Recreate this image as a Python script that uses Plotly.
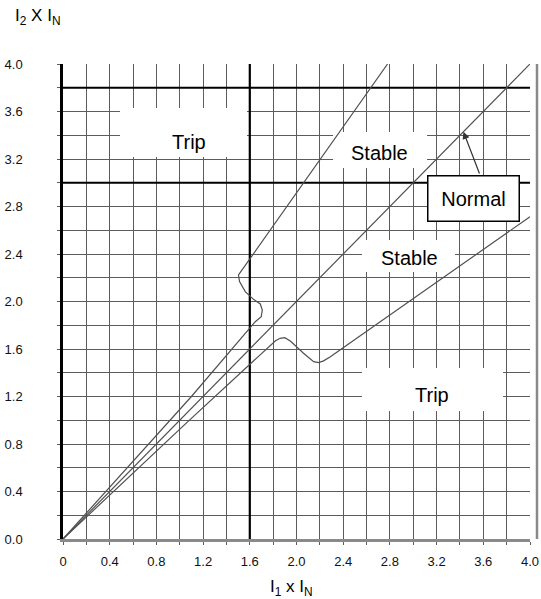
import plotly.graph_objects as go

# ---- data ----
normal_x = [0.0, 4.0]
normal_y = [0.0, 4.0]

upper_x = [0.0, 1.10, 1.647, 1.698, 1.707, 1.690, 1.632, 1.561, 1.512, 1.503, 2.78]
upper_y = [0.0, 1.20, 1.830, 1.872, 1.928, 1.979, 2.018, 2.083, 2.167, 2.223, 4.00]

lower_x = [0.0, 1.06, 1.82, 1.86, 1.90, 1.95, 2.06, 2.147, 2.19, 2.232, 2.29, 4.0]
lower_y = [0.0, 0.98, 1.67, 1.69, 1.695, 1.665, 1.564, 1.493, 1.485, 1.50, 1.535, 2.714]

x_tickvals = [0, 0.4, 0.8, 1.2, 1.6, 2.0, 2.4, 2.8, 3.2, 3.6, 4.0]
x_ticktext = ["0", "0.4", "0.8", "1.2", "1.6", "2.0", "2.4", "2.8", "3.2", "3.6", "4.0"]
y_tickvals = [0, 0.4, 0.8, 1.2, 1.6, 2.0, 2.4, 2.8, 3.2, 3.6, 4.0]
y_ticktext = ["0.0", "0.4", "0.8", "1.2", "1.6", "2.0", "2.4", "2.8", "3.2", "3.6", "4.0"]

heavy_x = [1.6]
heavy_y = [3.0, 3.8]

# region labels: text, box x0, x1, y0, y1, text x, text y
labels = [
    ("Trip",   0.488, 1.576, 3.217, 3.629, 1.079, 3.343),
    ("Stable", 2.313, 3.118, 3.124, 3.427, 2.715, 3.250),
    ("Stable", 2.561, 3.358, 2.248, 2.518, 2.972, 2.366),
    ("Trip",   2.561, 3.769, 1.078, 1.440, 3.161, 1.213),
]
normal_label = ("Normal", 3.516, 2.867)
normal_arrow_tip = (3.43, 3.43)
normal_arrow_tail = (3.572, 3.065)

FONT = "Liberation Sans, Arial, sans-serif"
GRID = "#5c5c5c"
CURVE = "#505050"

fig = go.Figure()
for xs, ys in [(normal_x, normal_y), (upper_x, upper_y), (lower_x, lower_y)]:
    fig.add_trace(go.Scatter(x=xs, y=ys, mode="lines",
                             line=dict(color=CURVE, width=1.2),
                             hoverinfo="skip", showlegend=False))

shapes = []
for xv in heavy_x:
    shapes.append(dict(type="line", xref="x", yref="y", x0=xv, x1=xv, y0=0, y1=4,
                       line=dict(color="black", width=2.2), layer="between"))
for yv in heavy_y:
    shapes.append(dict(type="line", xref="x", yref="y", x0=0, x1=4, y0=yv, y1=yv,
                       line=dict(color="black", width=2.2), layer="between"))
for (t, x0, x1, y0, y1, tx, ty) in labels:
    shapes.append(dict(type="rect", xref="x", yref="y", x0=x0, x1=x1, y0=y0, y1=y1,
                       fillcolor="white", line=dict(width=0), layer="between"))
# right border
shapes.append(dict(type="line", xref="paper", yref="paper", x0=1.015, x1=1.015, y0=0, y1=1,
                   line=dict(color="#8a8a8a", width=2.5), layer="above"))

annotations = []
for (t, x0, x1, y0, y1, tx, ty) in labels:
    annotations.append(dict(x=tx, y=ty, xref="x", yref="y", text=t, showarrow=False,
                            font=dict(family=FONT, size=20, color="black")))
annotations.append(dict(x=normal_arrow_tip[0], y=normal_arrow_tip[1], xref="x", yref="y",
                        ax=normal_arrow_tail[0], ay=normal_arrow_tail[1], axref="x", ayref="y",
                        text="", showarrow=True, arrowhead=2, arrowsize=1.2, arrowwidth=1.2,
                        arrowcolor="#333"))
annotations.append(dict(x=normal_label[1], y=normal_label[2], xref="x", yref="y",
                        text=normal_label[0], showarrow=False,
                        font=dict(family=FONT, size=20, color="black"),
                        bgcolor="white", bordercolor="black", borderwidth=1.5,
                        borderpad=1, width=88, height=42))
annotations.append(dict(x=-0.055, y=1.099, xref="paper", yref="paper",
                        xanchor="center", yanchor="middle",
                        text="I<sub>2</sub> X I<sub>N</sub>", showarrow=False,
                        font=dict(family=FONT, size=17, color="black")))
annotations.append(dict(x=0.49, y=-0.103, xref="paper", yref="paper",
                        xanchor="center", yanchor="middle",
                        text="I<sub>1</sub> x I<sub>N</sub>", showarrow=False,
                        font=dict(family=FONT, size=17, color="black")))

fig.update_layout(
    width=541, height=599,
    margin=dict(l=63, r=11, t=64, b=60),
    paper_bgcolor="white", plot_bgcolor="white",
    shapes=shapes, annotations=annotations,
    xaxis=dict(range=[0, 4.0], tickvals=x_tickvals, ticktext=x_ticktext,
               automargin=False,
               showgrid=True, gridcolor=GRID, gridwidth=1.4,
               minor=dict(dtick=0.2, tick0=0, showgrid=True, gridcolor=GRID, gridwidth=1.4,
                          ticks="outside", ticklen=3, tickcolor=GRID),
               ticks="outside", ticklen=3, tickcolor=GRID,
               showline=True, linecolor="#8a8a8a", linewidth=2.5,
               zeroline=False, ticklabelstandoff=6,
               tickfont=dict(family=FONT, size=13, color="#111")),
    yaxis=dict(range=[0, 4.0], tickvals=y_tickvals, ticktext=y_ticktext,
               automargin=False,
               showgrid=True, gridcolor=GRID, gridwidth=1.4,
               minor=dict(dtick=0.2, tick0=0, showgrid=True, gridcolor=GRID, gridwidth=1.4,
                          ticks="outside", ticklen=3, tickcolor=GRID),
               ticks="outside", ticklen=3, tickcolor=GRID,
               showline=True, linecolor="black", linewidth=2.5,
               zeroline=False, ticklabelstandoff=32,
               tickfont=dict(family=FONT, size=13, color="#111")),
)

fig.write_html("out.html",
               config={"displayModeBar": False},
               post_script="document.body.style.margin='0';document.body.style.overflow='hidden';")
